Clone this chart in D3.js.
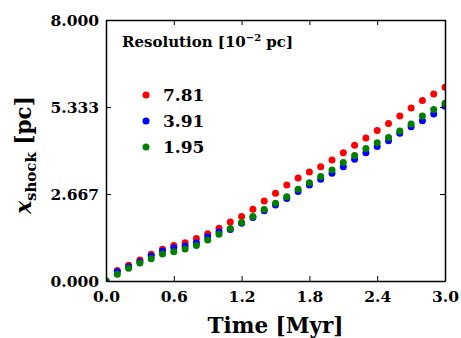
<!DOCTYPE html>
<html>
<head>
<meta charset="utf-8">
<script src="https://cdn.jsdelivr.net/npm/d3@7"></script>
<style>
  body { margin: 0; background: #fff; }
  svg { display: block; }
  text { font-family: "DejaVu Serif", serif; font-weight: bold; fill: #000; }
</style>
</head>
<body>
<div id="chart"></div>
<script>
// time samples [Myr]
const times = [0.0, 0.1, 0.2, 0.3, 0.4, 0.5, 0.6, 0.7, 0.8, 0.9, 1.0,
  1.1, 1.2, 1.3, 1.4, 1.5, 1.6, 1.7, 1.8, 1.9, 2.0,
  2.1, 2.2, 2.3, 2.4, 2.5, 2.6, 2.7, 2.8, 2.9, 3.0]

// shock position [pc] per resolution
const res781 = [0.0, 0.32, 0.48, 0.64, 0.82, 0.97, 1.09, 1.17, 1.30, 1.45, 1.62,
  1.81, 1.98, 2.20, 2.45, 2.69, 2.94, 3.16, 3.34, 3.50, 3.71,
  3.93, 4.16, 4.38, 4.61, 4.83, 5.06, 5.30, 5.53, 5.73, 5.94]
const res391 = [0.0, 0.28, 0.44, 0.59, 0.77, 0.92, 1.02, 1.07, 1.17, 1.36, 1.51,
  1.58, 1.77, 1.95, 2.15, 2.33, 2.53, 2.74, 2.94, 3.12, 3.30,
  3.50, 3.73, 3.93, 4.12, 4.30, 4.53, 4.73, 4.91, 5.12, 5.36]
const res195 = [0.0, 0.21, 0.39, 0.55, 0.68, 0.83, 0.90, 0.98, 1.09, 1.26, 1.43,
  1.61, 1.79, 1.98, 2.19, 2.38, 2.58, 2.81, 3.01, 3.20, 3.40,
  3.63, 3.85, 4.06, 4.24, 4.40, 4.60, 4.81, 5.06, 5.26, 5.45]

const seriesNames = ['7.81', '3.91', '1.95']
const seriesColors = ['#ff0000', '#0000ff', '#008000']
const seriesValues = [res781, res391, res195]

const xTicks = [0.0, 0.6, 1.2, 1.8, 2.4, 3.0]
const yTicks = [0, 8 / 3, 16 / 3, 8]

const width = 461
const height = 338
const margin = { top: 20, right: 16, bottom: 57, left: 106 }
const innerW = width - margin.left - margin.right
const innerH = height - margin.top - margin.bottom

const svg = d3.select('#chart')
  .append('svg')
  .attr('width', width)
  .attr('height', height)

const x = d3.scaleLinear().domain([0, 3]).range([0, innerW])
const y = d3.scaleLinear().domain([0, 8]).range([innerH, 0])

svg.append('defs')
  .append('clipPath')
  .attr('id', 'plot-clip')
  .append('rect')
  .attr('width', innerW)
  .attr('height', innerH)

const g = svg.append('g').attr('transform', `translate(${margin.left},${margin.top})`)

// points: red first, green on top
const pts = g.append('g').attr('clip-path', 'url(#plot-clip)')
seriesValues.forEach((vals, i) => {
  pts.append('g')
    .selectAll('circle')
    .data(times.map((t, j) => ({ t, v: vals[j] })))
    .enter()
    .append('circle')
    .attr('cx', (d) => x(d.t))
    .attr('cy', (d) => y(d.v))
    .attr('r', 3.5)
    .attr('fill', seriesColors[i])
})

// axes, ticks pointing inward on all four sides
const fmtX = d3.format('.1f')
const fmtY = d3.format('.3f')

const xAxis = g.append('g')
  .attr('transform', `translate(0,${innerH})`)
  .call(d3.axisBottom(x).tickValues(xTicks).tickFormat(fmtX).tickSizeInner(-5).tickSizeOuter(0).tickPadding(10))
const xAxisTop = g.append('g')
  .call(d3.axisTop(x).tickValues(xTicks).tickFormat('').tickSizeInner(-5).tickSizeOuter(0))
const yAxis = g.append('g')
  .call(d3.axisLeft(y).tickValues(yTicks).tickFormat(fmtY).tickSizeInner(-5).tickSizeOuter(0).tickPadding(7))
const yAxisRight = g.append('g')
  .attr('transform', `translate(${innerW},0)`)
  .call(d3.axisRight(y).tickValues(yTicks).tickFormat('').tickSizeInner(-5).tickSizeOuter(0))

;[xAxis, xAxisTop, yAxis, yAxisRight].forEach((a) => {
  a.select('.domain').attr('stroke', '#000').attr('stroke-width', 1.5)
  a.selectAll('.tick line').attr('stroke', '#000').attr('stroke-width', 1)
  a.selectAll('.tick text')
    .attr('font-family', '"DejaVu Serif", serif')
    .attr('font-weight', 'bold')
    .attr('font-size', 15.5)
    .attr('fill', '#000')
})
xAxis.selectAll('.tick text').attr('dy', '0.71em')
yAxis.selectAll('.tick text').attr('dy', '0.36em')

// axis titles
svg.append('text')
  .attr('x', margin.left + innerW / 2)
  .attr('y', 333)
  .attr('text-anchor', 'middle')
  .attr('font-size', 21.5)
  .text('Time [Myr]')

const yLabel = svg.append('text')
  .attr('transform', 'translate(31,155) rotate(-90)')
  .attr('text-anchor', 'middle')
  .attr('font-size', 21.5)
yLabel.append('tspan').attr('font-style', 'italic').text('x')
yLabel.append('tspan').attr('font-size', 15).attr('dy', 5).text('shock')
yLabel.append('tspan').attr('dy', -5).text(' [pc]')

// legend
const legend = g.append('g').attr('transform', 'translate(16,0)')
const title = legend.append('text')
  .attr('x', 0)
  .attr('y', 27)
  .attr('font-size', 15)
title.append('tspan').text('Resolution [10')
title.append('tspan').attr('font-size', 10).attr('dy', -6).text('−2')
title.append('tspan').attr('dy', 6).text(' pc]')

seriesNames.forEach((name, i) => {
  const row = legend.append('g').attr('transform', `translate(0,${75 + i * 26})`)
  row.append('circle').attr('cx', 24).attr('cy', 0).attr('r', 3.5).attr('fill', seriesColors[i])
  row.append('text')
    .attr('x', 41)
    .attr('y', 0)
    .attr('dy', '0.36em')
    .attr('font-size', 17)
    .text(name)
})
</script>
</body>
</html>
